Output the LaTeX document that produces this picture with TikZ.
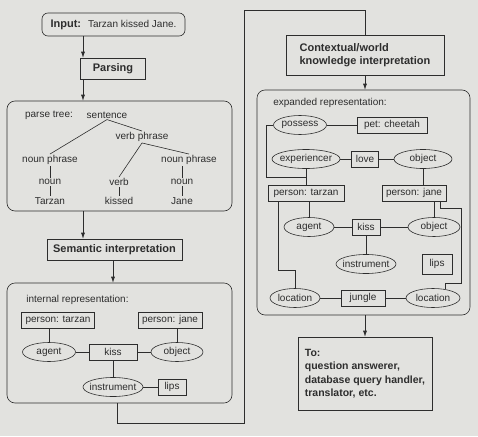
\documentclass[tikz,border=0pt]{standalone}
\usepackage{fontspec}
\setmainfont{Liberation Sans}
\usetikzlibrary{arrows.meta,shapes.geometric}
\definecolor{paper}{RGB}{226,226,223}
\definecolor{ink}{RGB}{45,45,45}

\begin{document}
\begin{tikzpicture}[x=1pt,y=-1pt,color=ink,line width=0.6pt,
  lbl/.style={font=\fontsize{10}{11}\selectfont, inner sep=1pt},
  stagebox/.style={draw, font=\bfseries\fontsize{11}{13}\selectfont, inner sep=0pt},
  panel/.style={draw, rounded corners=8pt, inner sep=0pt},
  concept/.style={draw, rectangle, font=\fontsize{10}{11}\selectfont, minimum height=16pt, inner sep=0pt},
  role/.style={draw, ellipse, font=\fontsize{10}{11}\selectfont, minimum height=19pt, inner xsep=-3pt, inner ysep=0pt},
  flow/.style={-{Latex[length=6pt,width=4pt]}}]
\useasboundingbox (0,0) rectangle (478,436);
\fill[paper] (0,0) rectangle (478,436);

% left column
\node[panel, rounded corners=6pt, minimum width=143pt, minimum height=23pt, font=\fontsize{10}{11}\selectfont] (input) at (113.5,24.5) {\textbf{\fontsize{11}{13}\selectfont Input:}\hspace{7pt}Tarzan kissed Jane.};
\node[stagebox, minimum width=65pt, minimum height=21pt] (parsing) at (113,68.5) {Parsing};
\node[panel, minimum width=225pt, minimum height=110pt] (tree) at (119.5,156) {};
\node[stagebox, minimum width=135pt, minimum height=21pt] (semantic) at (114.5,249.5) {Semantic interpretation};
\node[panel, minimum width=225pt, minimum height=120pt] (internal) at (119.5,343) {};

% parse tree
\node[lbl] (treelbl) at (49,115) {parse tree:};
\node[lbl] (sent) at (107,115) {sentence};
\node[lbl] (vp) at (142,137) {verb phrase};
\node[lbl] (np1) at (50,160) {noun phrase};
\node[lbl] (np2) at (189,160) {noun phrase};
\node[lbl] (n1) at (50,182) {noun};
\node[lbl] (v) at (119,182) {verb};
\node[lbl] (n2) at (182,182) {noun};
\node[lbl] (w1) at (50,201) {Tarzan};
\node[lbl] (w2) at (119,201) {kissed};
\node[lbl] (w3) at (182,201) {Jane};
\draw (sent.south) -- (np1.north);
\draw (sent.south) -- (vp.north);
\draw (vp.south) -- (v.north);
\draw (vp.south) -- (np2.north);
\draw (np1) -- (n1);
\draw (n1) -- (w1);
\draw (v) -- (w2);
\draw (n2.north) -- (n2.north |- np2.south);
\draw (n2) -- (w3);

% internal representation
\node[lbl, anchor=west] (intlbl) at (25,300) {internal representation:};
\node[concept, minimum width=73pt] (tarzanA) at (58,320) {person: tarzan};
\node[concept, minimum width=64pt] (janeA) at (170,320) {person: jane};
\node[role, minimum width=53pt] (agentA) at (49,352) {agent};
\node[concept, minimum width=48pt] (kissA) at (113,352) {kiss};
\node[role, minimum width=52pt] (objectA) at (177,352) {object};
\node[role, minimum width=60pt] (instrA) at (113,387) {instrument};
\node[concept, minimum width=28pt] (lipsA) at (172,387) {lips};
\draw (agentA.north) -- (agentA.north |- tarzanA.south);
\draw (objectA.north) -- (objectA.north |- janeA.south);
\draw (agentA) -- (kissA);
\draw (kissA) -- (objectA);
\draw (kissA) -- (instrA);
\draw (instrA) -- (lipsA);

% flow on the left
\coordinate (stem) at (83,0);
\coordinate (mid) at (113,0);
\draw[flow] (input.south -| stem) -- (parsing.north -| stem);
\draw[flow] (parsing.south -| stem) -- (tree.north -| stem);
\draw[flow] (tree.south -| stem) -- (semantic.north -| stem);
\draw[flow] (semantic.south -| mid) -- (internal.north -| mid);

% right column
\node[stagebox, minimum width=158pt, minimum height=40pt, align=left] (context) at (365,55) {Contextual/world\\knowledge interpretation};
\node[panel, minimum width=213pt, minimum height=225pt] (expanded) at (363.5,202.5) {};
\node[stagebox, minimum width=134pt, minimum height=73pt, align=left, font=\bfseries\fontsize{10.5}{13.5}\selectfont] (target) at (365,373.5) {To:\\question answerer,\\database query handler,\\translator, etc.};

% loop from internal to contextual
\coordinate (loopx) at (117,0);
\coordinate (loopbot) at (244,423);
\coordinate (looptop) at (244,10);
\draw (internal.south -| loopx) |- (loopbot) -- (looptop) -| (context.north);
\draw[flow] (context.south) -- (context.south |- expanded.north);
\draw[flow] (expanded.south -| target) -- (target.north);

% expanded representation
\node[lbl, anchor=west] (explbl) at (272,103) {expanded representation:};
\node[role, minimum width=53pt] (possess) at (300,125) {possess};
\node[concept, minimum width=70pt] (pet) at (392,125) {pet: cheetah};
\node[role, minimum width=68pt] (exper) at (306,159) {experiencer};
\node[concept, minimum width=27pt] (love) at (365,159) {love};
\node[role, minimum width=58pt] (object1) at (423,159) {object};
\node[concept, minimum width=76pt] (tarzanB) at (306,193) {person: tarzan};
\node[concept, minimum width=64pt] (janeB) at (414,193) {person: jane};
\node[role, minimum width=50pt] (agentB) at (309,227) {agent};
\node[concept, minimum width=28pt] (kissB) at (366,227) {kiss};
\node[role, minimum width=52pt] (object2) at (434,227) {object};
\node[role, minimum width=60pt] (instrB) at (366,264) {instrument};
\node[concept, minimum width=30pt, minimum height=20pt] (lipsB) at (437,264) {lips};
\node[role, minimum width=50pt] (loc1) at (295,298) {location};
\node[concept, minimum width=44pt] (jungle) at (363,298) {jungle};
\node[role, minimum width=54pt] (loc2) at (433,298) {location};
\coordinate (possjoin) at (266,177);
\coordinate (tarzanleg) at (278,270);
\coordinate (janeout) at (440,208);
\coordinate (janeside) at (461,283);
\draw (possess) -- (pet);
\draw (possess.west) -| (possjoin) -- (possjoin -| tarzanB);
\draw (exper) -- (tarzanB);
\draw (exper) -- (love);
\draw (love) -- (object1);
\draw (object1.south) -- (object1.south |- janeB.north);
\draw (agentB.north) -- (agentB.north |- tarzanB.south);
\draw (object2.north) -- (object2.north |- janeB.south);
\draw (agentB) -- (kissB);
\draw (kissB) -- (object2);
\draw (kissB) -- (instrB);
\draw (tarzanB.south -| tarzanleg) -- (tarzanleg) -| (loc1.north);
\draw (janeB.south -| janeout) -- (janeout) -| (janeside) -| (loc2.35);
\draw (loc1) -- (jungle);
\draw (jungle) -- (loc2);
\end{tikzpicture}
\end{document}
